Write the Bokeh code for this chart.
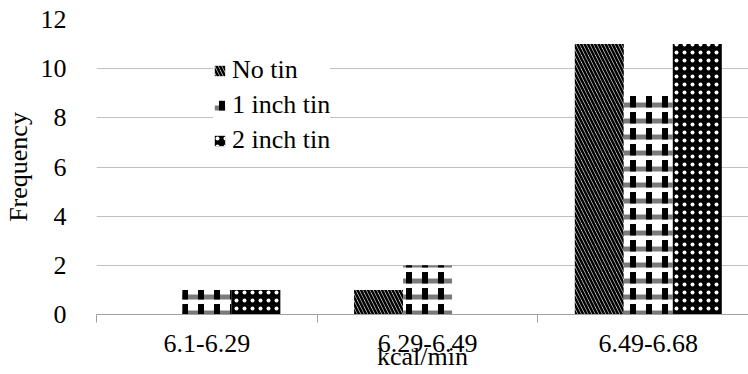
from bokeh.plotting import figure
from bokeh.models import ColumnDataSource, FixedTicker, Legend, LegendItem
from bokeh.transform import dodge
from bokeh.embed import file_html
from bokeh.resources import INLINE

categories = ["6.1-6.29", "6.29-6.49", "6.49-6.68"]
series_names = ["No tin", "1 inch tin", "2 inch tin"]
no_tin = [0, 1, 11]
one_inch_tin = [1, 2, 9]
two_inch_tin = [1, 0, 11]
y_ticks = [0, 2, 4, 6, 8, 10, 12]

FONT = "Liberation Serif"
FS = "26px"

centers = [i + 0.5 for i in range(len(categories))]
src = ColumnDataSource(dict(x=centers, no=no_tin, one=one_inch_tin, two=two_inch_tin))

p = figure(width=748, height=374, x_range=(0, 2.954), y_range=(0, 12),
           output_backend="svg", toolbar_location=None,
           min_border_left=96, min_border_right=0, min_border_top=19, min_border_bottom=60)
p.outline_line_color = None
p.background_fill_color = "white"
p.border_fill_color = "white"

bw = 0.222
r_no = p.vbar(x=dodge("x", -bw, range=p.x_range), top="no", width=bw, source=src,
              fill_color="white", line_color=None,
              hatch_pattern="\\", hatch_color="black", hatch_scale=7, hatch_weight=2.6)
r_one_a = p.vbar(x=dodge("x", 0, range=p.x_range), top="one", width=bw, source=src,
                 fill_color="white", line_color=None,
                 hatch_pattern="-", hatch_color="#7a7a7a", hatch_scale=16, hatch_weight=5)
r_one_b = p.vbar(x=dodge("x", 0, range=p.x_range), top="one", width=bw, source=src,
                 fill_alpha=0, line_color=None,
                 hatch_pattern=":", hatch_color="black", hatch_scale=16, hatch_weight=6)
r_two = p.vbar(x=dodge("x", bw, range=p.x_range), top="two", width=bw, source=src,
               fill_color="black", line_color=None,
               hatch_pattern=".", hatch_color="white", hatch_scale=8, hatch_weight=2)

p.xgrid.visible = False
p.ygrid.grid_line_color = "#c0c0c0"
p.ygrid.grid_line_width = 1
p.ygrid.ticker = FixedTicker(ticks=y_ticks)

ya = p.yaxis[0]
ya.ticker = FixedTicker(ticks=y_ticks)
ya.axis_line_color = None
ya.major_tick_line_color = None
ya.minor_tick_line_color = None
ya.major_label_standoff = 24
ya.major_label_text_font = FONT
ya.major_label_text_font_size = FS
ya.major_label_text_color = "black"
ya.axis_label = "Frequency"
ya.axis_label_text_font = FONT
ya.axis_label_text_font_size = FS
ya.axis_label_text_font_style = "normal"
ya.axis_label_text_color = "black"
ya.axis_label_standoff = 5

xa = p.xaxis[0]
xa.ticker = FixedTicker(ticks=centers, minor_ticks=[0, 1, 2, 3])
xa.major_label_overrides = {c: lab for c, lab in zip(centers, categories)}
xa.axis_line_color = "#a0a0a0"
xa.axis_line_width = 1
xa.major_tick_line_color = None
xa.major_tick_out = 0
xa.minor_tick_in = 0
xa.minor_tick_out = 8
xa.minor_tick_line_color = "#a0a0a0"
xa.major_label_standoff = 12
xa.major_label_text_font = FONT
xa.major_label_text_font_size = FS
xa.major_label_text_color = "black"
xa.axis_label = "kcal/min"
xa.axis_label_text_font = FONT
xa.axis_label_text_font_size = FS
xa.axis_label_text_font_style = "normal"
xa.axis_label_text_color = "black"
xa.axis_label_standoff = -13

legend = Legend(items=[LegendItem(label=series_names[0], renderers=[r_no]),
                       LegendItem(label=series_names[1], renderers=[r_one_a, r_one_b]),
                       LegendItem(label=series_names[2], renderers=[r_two])],
                location=(117, 159))
legend.background_fill_color = "white"
legend.background_fill_alpha = 1
legend.border_line_color = None
legend.label_text_font = FONT
legend.label_text_font_size = FS
legend.label_text_color = "black"
legend.glyph_width = 13
legend.glyph_height = 13
legend.label_standoff = 6
legend.spacing = 5
legend.padding = 10
legend.margin = 0
p.add_layout(legend)

open("out.html", "w").write(file_html(p, INLINE))
